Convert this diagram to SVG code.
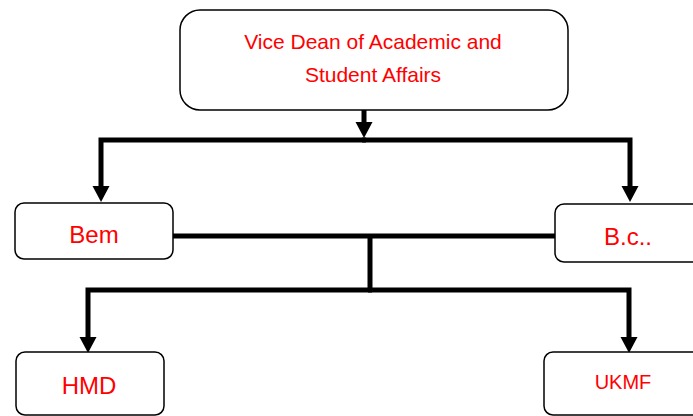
<svg xmlns="http://www.w3.org/2000/svg" width="693" height="416" viewBox="0 0 693 416">
<defs>
<style>
.box{fill:#fff;stroke:#000;stroke-width:1.5}
.lbl{fill:#ff0000;font-family:"Liberation Sans","Open Sans",Arial,sans-serif;text-anchor:middle}
.con{fill:none;stroke:#000;stroke-width:5;stroke-linejoin:miter}
</style>
<marker id="ah" markerUnits="userSpaceOnUse" markerWidth="17" markerHeight="17" refX="0" refY="8.5" orient="auto" overflow="visible">
<path d="M0,0 L16,8.5 L0,17 z" fill="#000"/>
</marker>
</defs>
<rect width="693" height="416" fill="#fff"/>
<g id="connectors">
<path class="con" d="M364,110 V122" marker-end="url(#ah)"/>
<path class="con" d="M366,140 H101 V186" marker-end="url(#ah)"/>
<path class="con" d="M362,140 H630 V186" marker-end="url(#ah)"/>
<path class="con" d="M173,236 H556"/>
<path class="con" d="M370,236 V290"/>
<path class="con" d="M372,290 H88 V337" marker-end="url(#ah)"/>
<path class="con" d="M368,290 H629 V337" marker-end="url(#ah)"/>
</g>
<g id="vice-dean">
<rect class="box" x="180" y="10" width="388" height="100" rx="20" ry="20"/>
<text class="lbl" x="373" y="49" font-size="21">Vice Dean of Academic and</text>
<text class="lbl" x="373" y="82" font-size="21">Student Affairs</text>
</g>
<g id="bem">
<rect class="box" x="15" y="203" width="158" height="56" rx="9" ry="9"/>
<text class="lbl" x="94" y="243" font-size="24">Bem</text>
</g>
<g id="bc">
<rect class="box" x="555" y="204" width="150" height="58" rx="9" ry="9"/>
<text class="lbl" x="628" y="245" font-size="24">B.c..</text>
</g>
<g id="hmd">
<rect class="box" x="16" y="352" width="148" height="63" rx="9" ry="9"/>
<text class="lbl" x="89" y="394" font-size="24">HMD</text>
</g>
<g id="ukmf">
<rect class="box" x="544" y="352" width="160" height="63" rx="9" ry="9"/>
<text class="lbl" x="623" y="389" font-size="20">UKMF</text>
</g>
</svg>
